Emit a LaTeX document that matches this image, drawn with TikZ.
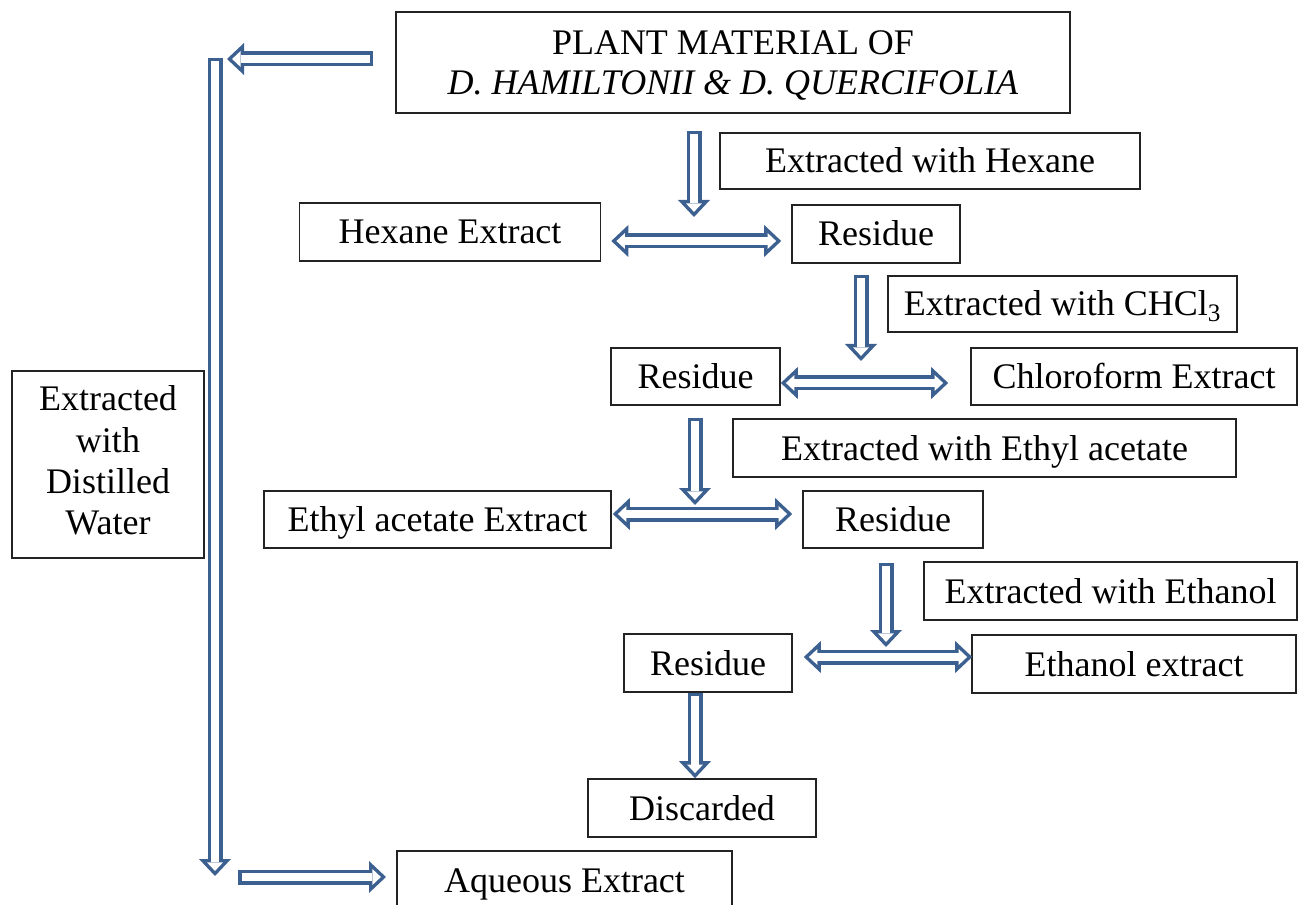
\documentclass[tikz,border=0pt]{standalone}
\usepackage{fontspec}
\setmainfont{Liberation Serif}
\usetikzlibrary{arrows.meta,calc}
\definecolor{arrowblue}{RGB}{60,97,145}
\definecolor{boxline}{RGB}{35,35,35}
\tikzset{
  BlkOut/.tip={Triangle[length=12.75pt,width=24pt,line width=0pt]},
  BlkIn/.tip={Triangle[length=6.3pt,width=11.85pt,line width=0pt]},
  blk/.style={draw=arrowblue, line width=11.25pt, -{BlkOut},
    postaction={draw=white, line width=6pt, -{BlkIn}, shorten >=3.83pt, shorten <=2.625pt}},
  dblk/.style={draw=arrowblue, line width=11.25pt, {BlkOut}-{BlkOut},
    postaction={draw=white, line width=6pt, {BlkIn}-{BlkIn}, shorten >=3.83pt, shorten <=3.83pt}},
  box/.style={draw=boxline, line width=1.2pt, inner sep=0pt,
    font=\fontsize{27pt}{30pt}\selectfont, text height=23pt, text depth=5pt},
  mbox/.style={draw=boxline, line width=1.2pt, inner sep=0pt, align=center}
}
\begin{document}
\begin{tikzpicture}[x=0.75pt,y=-0.75pt]
\useasboundingbox (0,0) rectangle (1299,905);
\clip (0,0) rectangle (1299,905);
\fill[white] (0,0) rectangle (1299,905);

% boxes
\node[mbox, minimum width=505.5pt, minimum height=75.75pt,
  font=\fontsize{27pt}{30pt}\selectfont] (plant) at (733,62.5)
  {PLANT MATERIAL OF\\\raisebox{0pt}[\height][0pt]{\textit{D. HAMILTONII \& D. QUERCIFOLIA}}};
\node[box, minimum width=315pt, minimum height=42pt] (exhex) at (930,161) {Extracted with Hexane};
\node[box, minimum width=225.75pt, minimum height=43.5pt] (hexext) at (450,232) {Hexane Extract};
\node[box, minimum width=126pt, minimum height=43.5pt] (res1) at (876,234) {Residue};
\node[box, minimum width=261.75pt, minimum height=42pt] (exchcl) at (1062.5,304) {Extracted with CHCl\textsubscript{3}};
\node[box, minimum width=126.75pt, minimum height=42.75pt] (res2) at (695.5,376.5) {Residue};
\node[box, minimum width=244.5pt, minimum height=42.75pt] (chlext) at (1134,376.5) {Chloroform Extract};
\node[box, minimum width=377.25pt, minimum height=43.5pt] (exea) at (984.5,448) {Extracted with Ethyl acetate};
\node[box, minimum width=260.25pt, minimum height=42.75pt] (eaext) at (437.5,519.5) {Ethyl acetate Extract};
\node[box, minimum width=135pt, minimum height=42.75pt] (res3) at (893,519.5) {Residue};
\node[box, minimum width=279.75pt, minimum height=43.5pt] (exeth) at (1110.5,591) {Extracted with Ethanol};
\node[box, minimum width=126pt, minimum height=43.5pt] (res4) at (708,663) {Residue};
\node[box, minimum width=243pt, minimum height=43.5pt] (ethext) at (1134,664) {Ethanol extract};
\node[box, minimum width=171pt, minimum height=43.5pt] (disc) at (702,808) {Discarded};
\node[box, minimum width=251.25pt, minimum height=43.5pt] (aq) at (564.5,880) {Aqueous Extract};
\node[mbox, minimum width=144pt, minimum height=140.25pt,
  font=\fontsize{27pt}{31pt}\selectfont] (water) at (108,464.5)
  {\raisebox{0.5pt}{\begin{tabular}{@{}c@{}}Extracted\\with\\Distilled\\Water\end{tabular}}};

% junction / free-end coordinates
\coordinate (l1) at (373,59);
\coordinate (l2) at (227,59);
\coordinate (v1) at (215,58);
\coordinate (v2) at (215,876);
\coordinate (b1) at (238,877);
\coordinate (b2) at (386,877);
\coordinate (j1) at (694,241);
\coordinate (j2) at (861,383);
\coordinate (j3) at (695,514);
\coordinate (j4) at (886,657);
\coordinate (dd) at (695,0);

% side arrows
\draw[blk] (l1) -- (l2);
\draw[blk] (v1) -- (v2);
\draw[blk] (b1) -- (b2);

% step 1
\draw[blk] ($(j1 |- plant.south)+(0,17)$) -- ($(j1)+(0,-24)$);
\draw[dblk] ($(hexext.east |- j1)+(10,0)$) -- ($(res1.west |- j1)+(-10,0)$);
% step 2
\draw[blk] ($(j2 |- res1.south)+(0,11)$) -- ($(j2)+(0,-22)$);
\draw[dblk] ($(res2.east |- j2)+(0,0)$) -- ($(chlext.west |- j2)+(-22,0)$);
% step 3
\draw[blk] ($(j3 |- res2.south)+(0,12)$) -- ($(j3)+(0,-9)$);
\draw[dblk] ($(eaext.east |- j3)+(1,0)$) -- ($(res3.west |- j3)+(-10,0)$);
% step 4
\draw[blk] ($(j4 |- res3.south)+(0,14)$) -- ($(j4)+(0,-10)$);
\draw[dblk] ($(res4.east |- j4)+(11,0)$) -- ($(ethext.west |- j4)+(1,0)$);
% discard
\draw[blk] (dd |- res4.south) -- (dd |- disc.north);
\end{tikzpicture}
\end{document}
